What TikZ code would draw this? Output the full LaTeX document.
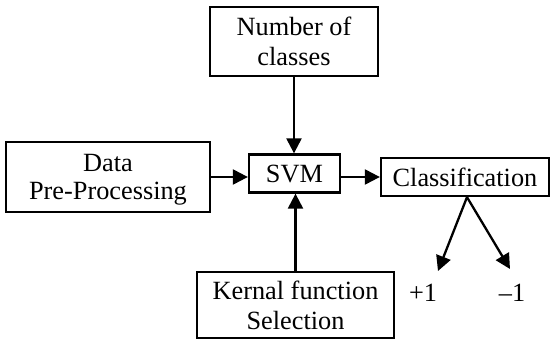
\documentclass[tikz,border=0pt]{standalone}
\usepackage{fontspec}
\setmainfont{Liberation Serif}
\usetikzlibrary{arrows.meta}
\begin{document}
\begin{tikzpicture}[x=1pt,y=-1pt,
  box/.style={draw, line width=2.3pt, inner sep=0pt, align=center,
    font=\fontsize{26.3}{30}\selectfont},
  lbl/.style={inner sep=0pt, font=\fontsize{26.3}{30}\selectfont},
  arr/.style={line width=2.3pt, -{Triangle[length=15pt,width=15pt]}}]
\useasboundingbox (0,0) rectangle (550,340);
\node[box, minimum width=168pt, minimum height=69pt] (num) at (294,41.5) {Number of\\classes};
\node[box, minimum width=204pt, minimum height=70pt, text depth=0pt] (data) at (108,177) {Data\\[-2pt]Pre-Processing};
\node[box, minimum width=91pt, minimum height=38pt] (svm) at (294.5,173.5) {SVM};
\node[box, minimum width=168pt, minimum height=38pt] (cls) at (465,177) {Classification};
\node[box, minimum width=197pt, minimum height=66pt] (ker) at (295.5,305) {Kernal function\\Selection};
\node[lbl] (p1) at (423,293) {+1};
\node[lbl] (m1) at (512,293) {–1};
\coordinate (c1) at (438,271);
\coordinate (c2) at (510,269);
\draw[arr] (num.south) -- (num.south |- svm.north);
\draw[arr] (ker.north) -- (ker.north |- svm.south);
\draw[arr] (data.east) -- (data.east -| svm.west);
\draw[arr] (cls.west -| svm.east) -- (cls.west);
\draw[arr] ([xshift=2pt]cls.south) -- (c1);
\draw[arr] ([xshift=2pt]cls.south) -- (c2);
\end{tikzpicture}
\end{document}
